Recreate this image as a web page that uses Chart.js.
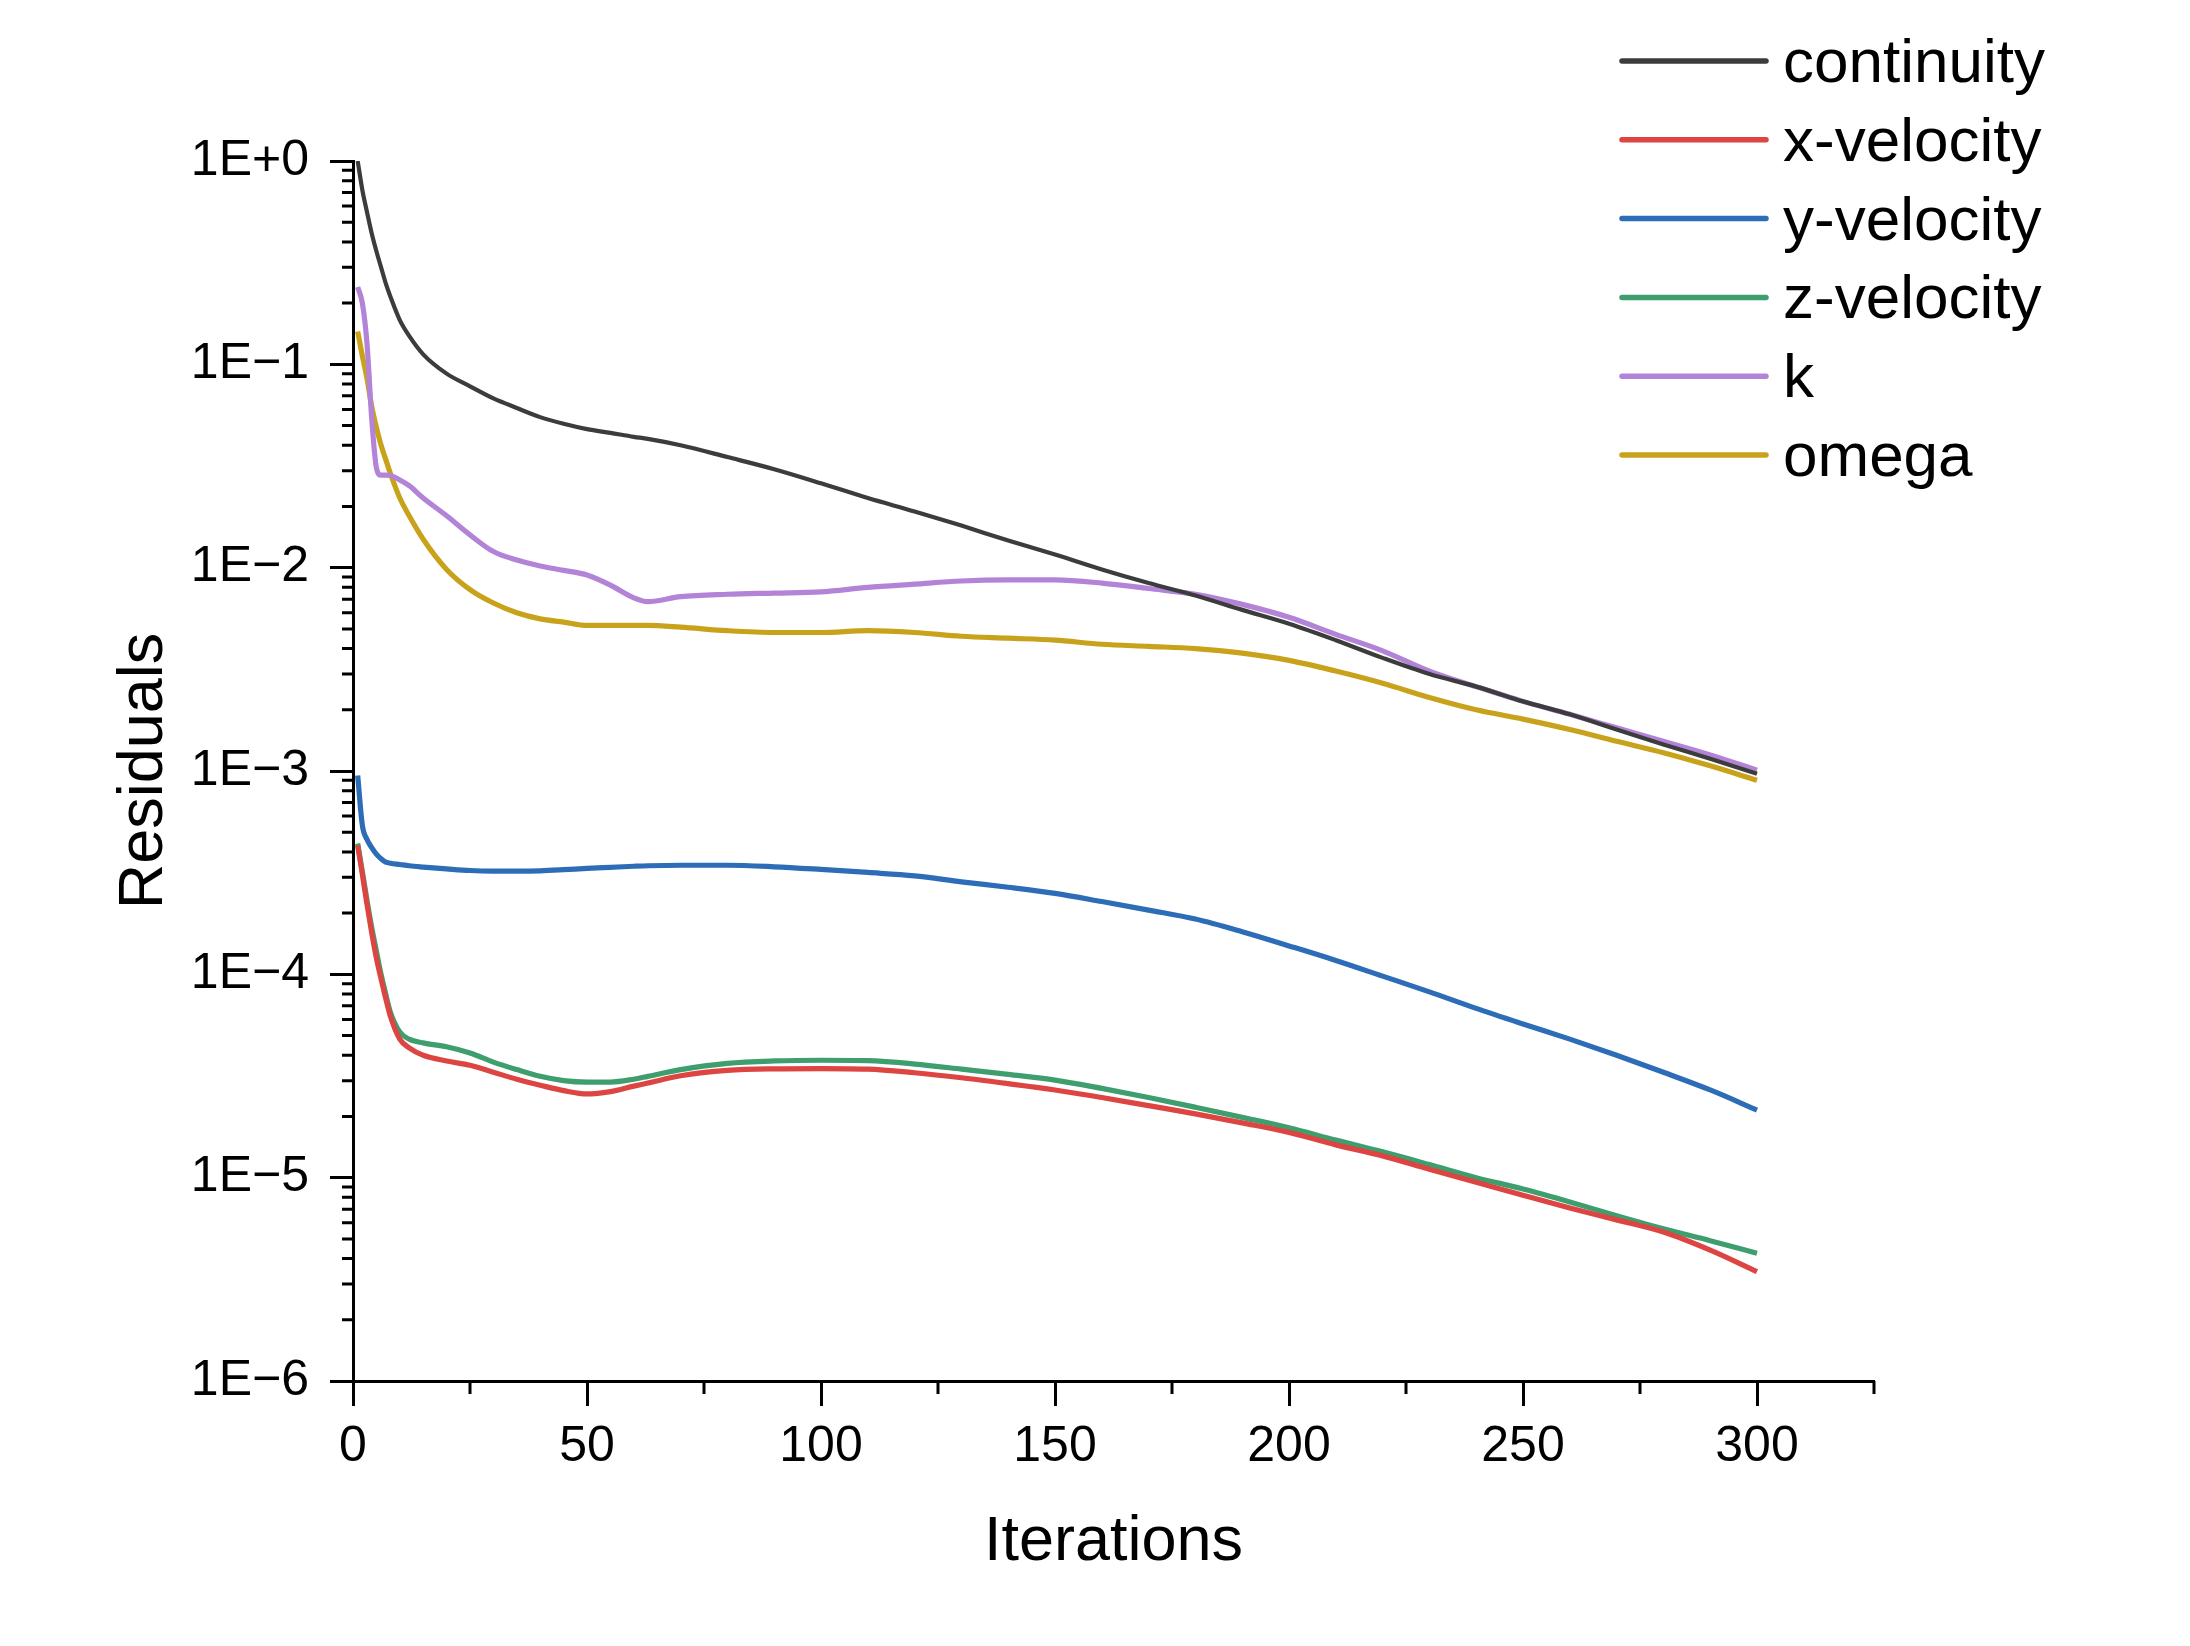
<!DOCTYPE html>
<html>
<head>
<meta charset="utf-8">
<title>Residuals</title>
<script src="https://cdn.jsdelivr.net/npm/chart.js@4.4.0/dist/chart.umd.min.js"></script>
<style>
  html, body { margin: 0; padding: 0; background: #fff; }
  #wrap { width: 2190px; height: 1646px; }
</style>
</head>
<body>
<div id="wrap"><canvas id="myChart" width="2190" height="1646"></canvas></div>
<script>
// iteration numbers the residuals were read at
const iterations = [1, 2, 3, 4, 5, 6, 7, 8, 10, 12, 15, 20, 25, 30, 35, 40, 45, 50, 55, 60, 63, 70,
  80, 90, 100, 110, 120, 130, 140, 150, 160, 170, 180, 190, 200, 210, 220, 230, 240, 250, 260, 270, 280, 290, 300];

const continuity = [1.0, 0.72, 0.56, 0.44, 0.36, 0.30, 0.25, 0.215, 0.165, 0.138, 0.112, 0.090, 0.078, 0.068,
  0.061, 0.055, 0.051, 0.048, 0.046, 0.044, 0.043, 0.040, 0.035, 0.0305, 0.026, 0.022, 0.0189, 0.0161,
  0.0136, 0.0116, 0.0098, 0.0084, 0.0073, 0.0062, 0.0053, 0.0044, 0.0036, 0.0030, 0.0026, 0.0022,
  0.0019, 0.0016, 0.00135, 0.00115, 0.00097];

const xVelocity = [4.3e-4, 3.1e-4, 2.2e-4, 1.6e-4, 1.2e-4, 9.5e-5, 7.6e-5, 6.2e-5, 4.8e-5, 4.35e-5, 4.0e-5,
  3.75e-5, 3.57e-5, 3.3e-5, 3.05e-5, 2.85e-5, 2.68e-5, 2.58e-5, 2.65e-5, 2.82e-5, 2.92e-5, 3.17e-5,
  3.37e-5, 3.43e-5, 3.44e-5, 3.42e-5, 3.28e-5, 3.1e-5, 2.9e-5, 2.7e-5, 2.48e-5, 2.26e-5, 2.06e-5,
  1.86e-5, 1.67e-5, 1.45e-5, 1.28e-5, 1.1e-5, 9.5e-6, 8.2e-6, 7.1e-6, 6.2e-6, 5.4e-6, 4.4e-6, 3.45e-6];

const yVelocity = [9.5e-4, 5.4e-4, 4.6e-4, 4.2e-4, 3.9e-4, 3.7e-4, 3.56e-4, 3.52e-4, 3.47e-4, 3.42e-4, 3.37e-4,
  3.3e-4, 3.24e-4, 3.22e-4, 3.22e-4, 3.23e-4, 3.27e-4, 3.32e-4, 3.36e-4, 3.4e-4, 3.42e-4, 3.44e-4,
  3.44e-4, 3.38e-4, 3.28e-4, 3.17e-4, 3.05e-4, 2.85e-4, 2.68e-4, 2.5e-4, 2.28e-4, 2.07e-4, 1.87e-4,
  1.62e-4, 1.38e-4, 1.17e-4, 9.8e-5, 8.2e-5, 6.8e-5, 5.7e-5, 4.8e-5, 4.0e-5, 3.3e-5, 2.7e-5, 2.15e-5];

const zVelocity = [4.4e-4, 3.2e-4, 2.3e-4, 1.7e-4, 1.3e-4, 1.0e-4, 8.0e-5, 6.5e-5, 5.2e-5, 4.8e-5, 4.6e-5,
  4.4e-5, 4.1e-5, 3.7e-5, 3.4e-5, 3.15e-5, 3.0e-5, 2.95e-5, 2.95e-5, 3.05e-5, 3.15e-5, 3.4e-5,
  3.65e-5, 3.75e-5, 3.78e-5, 3.76e-5, 3.62e-5, 3.42e-5, 3.22e-5, 3.02e-5, 2.75e-5, 2.48e-5, 2.22e-5,
  1.98e-5, 1.76e-5, 1.53e-5, 1.34e-5, 1.16e-5, 1.0e-5, 8.8e-6, 7.6e-6, 6.5e-6, 5.6e-6, 4.9e-6, 4.25e-6];

const kResidual = [0.24, 0.20, 0.126, 0.054, 0.031, 0.0285, 0.0285, 0.0284, 0.027, 0.0253, 0.022, 0.018,
  0.0145, 0.012, 0.0109, 0.0102, 0.0097, 0.0092, 0.0082, 0.0071, 0.0068, 0.0072, 0.0074, 0.0075, 0.0076,
  0.0080, 0.0083, 0.0086, 0.0087, 0.0087, 0.0084, 0.0079, 0.0074, 0.0066, 0.0057, 0.0047, 0.0039,
  0.0031, 0.0026, 0.0022, 0.0019, 0.00163, 0.0014, 0.0012, 0.00101];

const omega = [0.145, 0.11, 0.085, 0.062, 0.049, 0.040, 0.034, 0.029, 0.022, 0.018, 0.0138, 0.0098, 0.0078,
  0.0067, 0.0060, 0.0056, 0.0054, 0.0052, 0.0052, 0.0052, 0.0052, 0.0051, 0.0049, 0.0048, 0.0048,
  0.0049, 0.0048, 0.0046, 0.0045, 0.0044, 0.0042, 0.0041, 0.0040, 0.0038, 0.0035, 0.0031, 0.0027,
  0.0023, 0.0020, 0.0018, 0.0016, 0.0014, 0.00123, 0.00106, 0.00090];

const seriesNames = ['continuity', 'x-velocity', 'y-velocity', 'z-velocity', 'k', 'omega'];
const seriesValues = [continuity, xVelocity, yVelocity, zVelocity, kResidual, omega];
const seriesColors = ['#3c3c3c', '#dc4541', '#2d6db7', '#3f9e6d', '#b383d8', '#c9a21c'];

// axis ticks
const xMajorTicks = [0, 50, 100, 150, 200, 250, 300];
const xMinorTicks = [25, 75, 125, 175, 225, 275, 325];
const yMajorTicks = [1e-6, 1e-5, 1e-4, 1e-3, 1e-2, 1e-1, 1];
const yTickLabels = ['1E\u22126', '1E\u22125', '1E\u22124', '1E\u22123', '1E\u22122', '1E\u22121', '1E+0'];
const yMinorTicks = [];
yMajorTicks.slice(0, -1).forEach(d => {
  for (let m = 2; m <= 9; m++) yMinorTicks.push(m * d);
});

const FONT = "'Liberation Sans', Arial, Helvetica, sans-serif";
Chart.defaults.font.family = FONT;
Chart.defaults.color = '#000';

const datasets = seriesNames.map((name, i) => ({
  label: name,
  data: iterations.map((it, j) => ({ x: it, y: seriesValues[i][j] })),
  borderColor: seriesColors[i],
  backgroundColor: seriesColors[i],
  borderWidth: i === 0 ? 4.2 : 5.2,
  pointRadius: 0,
  cubicInterpolationMode: 'monotone',
  fill: false
}));

// short minor ticks + legend block at the top right
const extrasPlugin = {
  id: 'extras',
  afterDraw(chart) {
    const ctx = chart.ctx;
    const xs = chart.scales.x;
    const ys = chart.scales.y;
    ctx.save();
    ctx.strokeStyle = '#000';
    ctx.lineWidth = 3;
    ctx.beginPath();
    xMinorTicks.forEach(v => {
      const px = xs.getPixelForValue(v);
      ctx.moveTo(px, xs.top);
      ctx.lineTo(px, xs.top + 13);
    });
    yMinorTicks.forEach(v => {
      const py = ys.getPixelForValue(v);
      ctx.moveTo(ys.right, py);
      ctx.lineTo(ys.right - 11, py);
    });
    ctx.stroke();

    const fontSize = 62;
    ctx.font = fontSize + 'px ' + FONT;
    ctx.textBaseline = 'alphabetic';
    ctx.textAlign = 'left';
    chart.data.datasets.forEach((ds, i) => {
      const y = 61 + i * 78.8;
      ctx.strokeStyle = ds.borderColor;
      ctx.lineWidth = 5.5;
      ctx.lineCap = 'round';
      ctx.beginPath();
      ctx.moveTo(1622, y);
      ctx.lineTo(1766, y);
      ctx.stroke();
      ctx.fillStyle = '#000';
      ctx.fillText(ds.label, 1783, y + 0.34 * fontSize);
    });
    ctx.restore();
  }
};

const ctx = document.getElementById('myChart').getContext('2d');
const myChart = new Chart(ctx, {
  type: 'line',
  data: { datasets: datasets },
  plugins: [extrasPlugin],
  options: {
    responsive: false,
    animation: false,
    devicePixelRatio: 1,
    layout: { padding: { top: 161, right: 316, bottom: 0, left: 0 } },
    plugins: {
      legend: { display: false },
      tooltip: { enabled: false }
    },
    scales: {
      x: {
        type: 'linear',
        min: 0,
        max: 325,
        afterBuildTicks: scale => { scale.ticks = xMajorTicks.map(v => ({ value: v })); },
        afterFit: scale => { scale.height = 1646 - 1381; },
        grid: { drawOnChartArea: false, tickLength: 25, tickWidth: 3, tickColor: '#000' },
        border: { display: true, color: '#000', width: 3 },
        ticks: {
          autoSkip: false,
          maxRotation: 0,
          padding: 11,
          color: '#000',
          font: { size: 50 },
          callback: v => String(v)
        },
        title: {
          display: true,
          text: 'Iterations',
          color: '#000',
          font: { size: 63 },
          padding: { top: 0, bottom: 66 }
        }
      },
      y: {
        type: 'logarithmic',
        min: 1e-6,
        max: 1,
        afterBuildTicks: scale => { scale.ticks = yMajorTicks.map(v => ({ value: v })); },
        afterFit: scale => { scale.width = 353; },
        grid: { drawOnChartArea: false, tickLength: 23, tickWidth: 3, tickColor: '#000' },
        border: { display: true, color: '#000', width: 3 },
        ticks: {
          autoSkip: false,
          padding: 21,
          color: '#000',
          font: { size: 50 },
          callback: v => {
            const i = yMajorTicks.findIndex(t => Math.abs(Math.log10(t) - Math.log10(v)) < 1e-6);
            return i >= 0 ? yTickLabels[i] : '';
          }
        },
        title: {
          display: true,
          text: 'Residuals',
          color: '#000',
          font: { size: 63 },
          padding: { top: 107, bottom: 0 }
        }
      }
    }
  }
});
</script>
</body>
</html>
